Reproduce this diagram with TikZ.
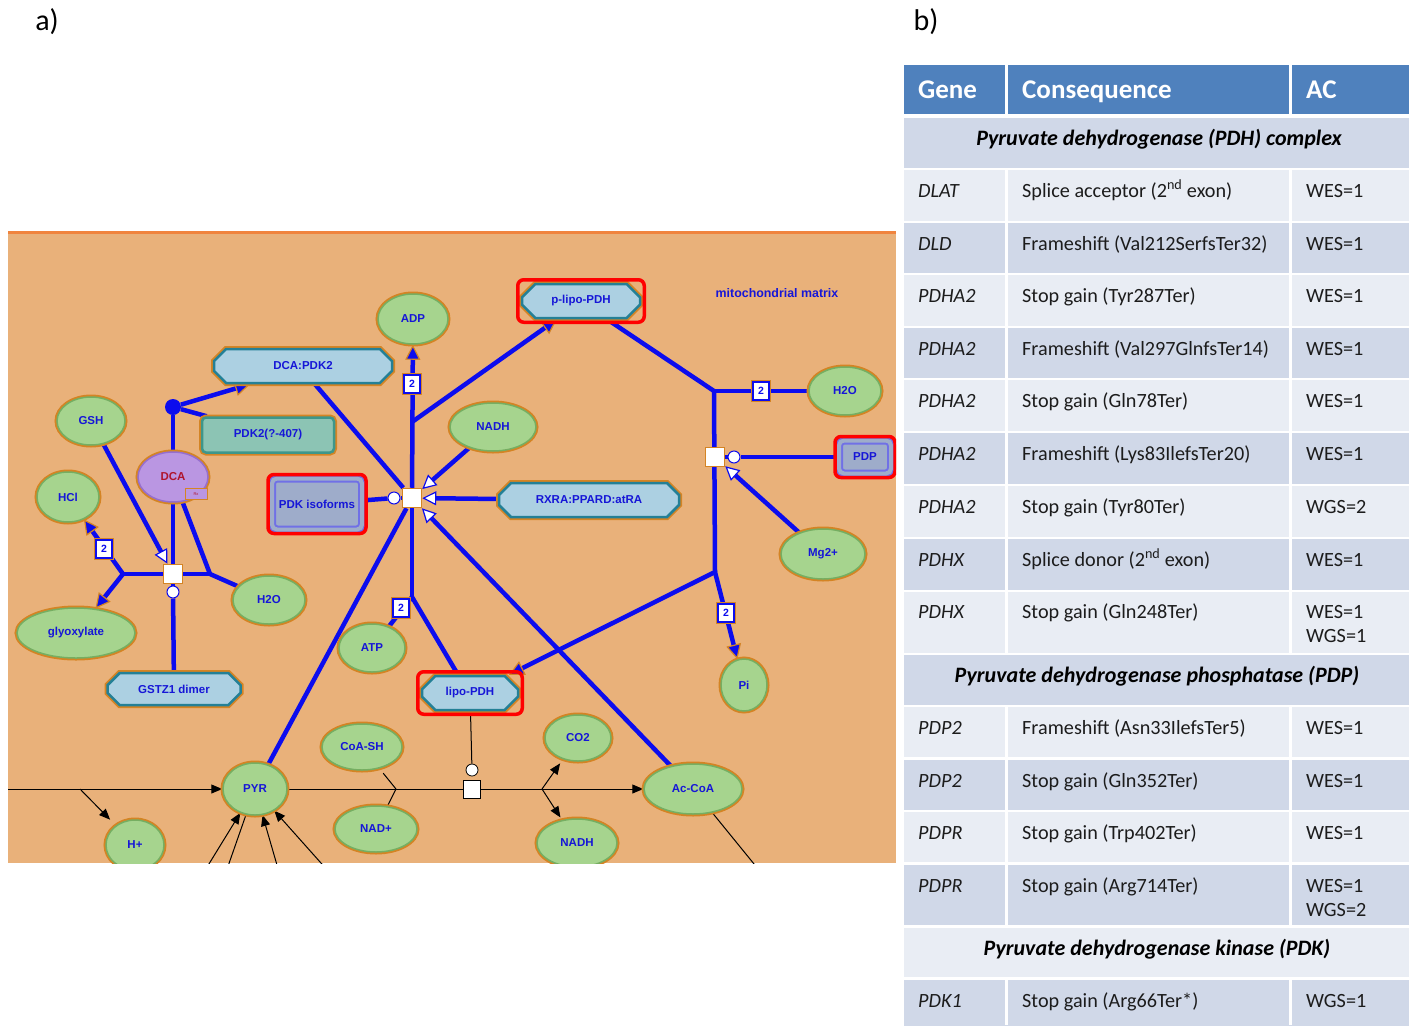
\documentclass[tikz,border=0pt]{standalone}
\usepackage{fontspec}
\setmainfont{Carlito}
\newfontfamily\diafont{Liberation Sans}
\usetikzlibrary{arrows.meta,shapes.misc,shapes.geometric,fit}

\definecolor{paper}{RGB}{233,177,122}
\definecolor{rim}{RGB}{240,132,62}
\definecolor{halo}{RGB}{212,132,36}
\definecolor{wire}{RGB}{12,12,238}
\definecolor{ink}{RGB}{22,22,215}
\definecolor{metfill}{RGB}{166,212,142}
\definecolor{metring}{RGB}{118,174,98}
\definecolor{cpxfill}{RGB}{172,208,226}
\definecolor{cpxrim}{RGB}{36,128,150}
\definecolor{protfill}{RGB}{140,196,180}
\definecolor{protrim}{RGB}{62,150,138}
\definecolor{drugfill}{RGB}{186,150,226}
\definecolor{drugrim}{RGB}{150,110,205}
\definecolor{drugink}{RGB}{175,20,45}
\definecolor{genefill}{RGB}{158,172,202}
\definecolor{generim}{RGB}{112,112,230}
\definecolor{headblue}{RGB}{79,129,189}
\definecolor{rowdark}{RGB}{208,216,232}
\definecolor{rowlight}{RGB}{233,237,244}
\definecolor{txtgray}{RGB}{28,28,28}

\pgfdeclarelayer{paperlayer}
\pgfdeclarelayer{wirelayer}
\pgfsetlayers{paperlayer,wirelayer,main}

\tikzset{
    diatext/.style={
    font=\diafont\bfseries\fontsize{11.5}{13}\selectfont,text=ink
    },
    metab/.style={
    ellipse,diatext,inner sep=0pt,fill=metfill,draw=metring,line width=1.5pt,
    preaction={draw=halo,line width=5pt}
    },
    cplx/.style={
    chamfered rectangle,chamfered rectangle xsep=7pt,chamfered rectangle ysep=7pt,
    diatext,inner sep=1pt,fill=cpxfill,draw=cpxrim,line width=2.5pt,
    preaction={draw=halo,line width=6pt}
    },
    prot/.style={
    rectangle,rounded corners=4pt,diatext,fill=protfill,draw=protrim,line width=2.5pt,
    preaction={draw=halo,line width=6pt}
    },
    drug/.style={
    ellipse,diatext,text=drugink,inner sep=0pt,fill=drugfill,draw=drugrim,line width=1.5pt,
    preaction={draw=halo,line width=5pt}
    },
    rxbox/.style={
    rectangle,fill=drugfill,draw=halo,line width=1pt,minimum width=22pt,minimum height=11pt,
    inner sep=0pt,text=drugink,font=\diafont\fontsize{4}{5}\selectfont
    },
    genebox/.style={
    rectangle,rounded corners=5pt,diatext,inner sep=0pt,fill=genefill,draw=generim,
    line width=2pt,double=genefill,double distance=4pt,
    preaction={draw=halo,line width=10pt}
    },
    hilite/.style={
    rectangle,rounded corners=6pt,draw=red,line width=3.5pt,inner sep=3pt
    },
    proc/.style={
    rectangle,fill=white,draw=halo,line width=1.5pt,minimum size=19pt,inner sep=0pt
    },
    catal/.style={
    circle,fill=white,draw=wire,line width=1pt,minimum size=12pt,inner sep=0pt
    },
    bdot/.style={
    circle,fill=wire,minimum size=16pt,inner sep=0pt
    },
    stoich/.style={
    rectangle,fill=white,draw=wire,line width=1.5pt,minimum width=16pt,minimum height=18pt,
    inner sep=0pt,text=wire,font=\diafont\bfseries\fontsize{10.5}{11}\selectfont,
    preaction={draw=halo,line width=4.5pt}
    },
    bproc/.style={
    rectangle,fill=white,draw=black,line width=1pt,minimum width=17pt,minimum height=18pt,inner sep=0pt
    },
    bcatal/.style={
    circle,fill=white,draw=black,line width=0.8pt,minimum size=12pt,inner sep=0pt
    },
    reac/.style={
    draw=wire,line width=4.5pt
    },
    prod/.style={
    reac,-{Triangle[length=15pt,width=15pt,fill=wire,color=halo,line width=1.2pt]}
    },
    modr/.style={
    reac,-{Triangle[length=14pt,width=14pt,fill=white,color=wire,line width=1.2pt]}
    },
    bline/.style={
    draw=black,line width=1pt
    },
    barr/.style={
    bline,-{Triangle[length=11pt,width=9pt]}
    },
    trow/.style={
    rectangle,minimum width=505pt,inner sep=0pt,outer sep=0pt
    },
    darkrow/.style={trow,fill=rowdark},
    lightrow/.style={trow,fill=rowlight},
    headrow/.style={trow,fill=headblue,minimum height=49pt},
    celltxt/.style={
    anchor=base west,inner sep=0pt,text=txtgray,font=\fontsize{20.2}{24}\selectfont
    },
    headtxt/.style={
    anchor=base west,inner sep=0pt,text=white,font=\bfseries\fontsize{27}{30}\selectfont
    },
    sectxt/.style={
    anchor=base,inner sep=0pt,text=black,font=\bfseries\itshape\fontsize{22}{26}\selectfont
    },
    colsep/.style={draw=white,line width=3pt},
    panel/.style={inner sep=0pt,font=\fontsize{30}{34}\selectfont},
}

\begin{document}
\begin{tikzpicture}[x=1pt,y=-1pt]
  \useasboundingbox (0,0) rectangle (1412,1025);
  \node[panel] (labA) at (47,22) {a)};
  \node[panel] (labB) at (926,22) {b)};

  % a) pathway map
  \begin{pgfonlayer}{paperlayer}
    \fill[paper] (8,231) rectangle (896,863);
    \draw[rim,line width=3pt] (8,232.5) -- (896,232.5);
  \end{pgfonlayer}

  \begin{scope}
  \clip (8,231) rectangle (896,863);
  \node[diatext,font=\diafont\bfseries\fontsize{12.4}{13}\selectfont] (mito) at (777,293) {mitochondrial matrix};
  \node[cplx,minimum width=118,minimum height=34] (plipo) at (581,301) {p-lipo-PDH};
  \node[hilite,fit=(plipo)] (plipoH) {};
  \node[metab,minimum width=70,minimum height=50] (ADP) at (413,319) {ADP};
  \node[cplx,minimum width=178,minimum height=34] (dcapdk) at (303,366) {DCA:PDK2};
  \node[prot,minimum width=132,minimum height=35] (pdktwo) at (268,435) {PDK2(?-407)};
  \node[metab,minimum width=68,minimum height=48] (GSH) at (91,421) {GSH};
  \node[drug,minimum width=70,minimum height=50] (DCA) at (173,477) {DCA};
  \node[rxbox] (Rx) at (196,494) {Rx};
  \node[metab,minimum width=62,minimum height=50] (HCl) at (68,497) {HCl};
  \node[metab,minimum width=86,minimum height=48] (NADHa) at (493,427) {NADH};
  \node[genebox,minimum width=90,minimum height=51] (pdkiso) at (317,504) {PDK isoforms};
  \node[hilite,fit=(pdkiso)] (pdkisoH) {};
  \node[cplx,minimum width=180,minimum height=34] (rxra) at (589,500) {RXRA:PPARD:atRA};
  \node[proc] (pc) at (412,498) {};
  \node[catal] (cc) at (394,498) {};
  \node[bdot] (dot) at (173,407) {};
  \node[proc] (ps) at (173,574) {};
  \node[catal] (cs) at (173,592) {};
  \node[metab,minimum width=72,minimum height=48] (H2Oa) at (269,600) {H2O};
  \node[metab,minimum width=118,minimum height=50] (glyox) at (76,633) {glyoxylate};
  \node[cplx,minimum width=133,minimum height=32] (gstz) at (174,689) {GSTZ1 dimer};
  \node[metab,minimum width=66,minimum height=48] (ATP) at (372,648) {ATP};
  \node[cplx,minimum width=96,minimum height=34] (lipo) at (470,693) {lipo-PDH};
  \node[hilite,fit=(lipo)] (lipoH) {};
  \node[metab,minimum width=72,minimum height=48] (H2Ob) at (845,391) {H2O};
  \node[genebox,minimum width=52,minimum height=33] (PDP) at (865,457) {PDP};
  \node[hilite,fit=(PDP)] (PDPH) {};
  \node[proc] (pr) at (715,457) {};
  \node[catal] (cr) at (734,457) {};
  \node[metab,minimum width=84,minimum height=50] (Mg) at (823,554) {Mg2+};
  \node[metab,minimum width=46,minimum height=52] (Pi) at (744,685) {Pi};
  \node[metab,minimum width=80,minimum height=46] (CoA) at (362,747) {CoA-SH};
  \node[metab,minimum width=66,minimum height=46] (COtwo) at (578,738) {CO2};
  \node[metab,minimum width=64,minimum height=52] (PYR) at (255,789) {PYR};
  \node[metab,minimum width=98,minimum height=50] (AcCoA) at (693,789) {Ac-CoA};
  \node[metab,minimum width=82,minimum height=46] (NADp) at (376,829) {NAD+};
  \node[metab,minimum width=80,minimum height=48] (NADHb) at (577,843) {NADH};
  \node[metab,minimum width=58,minimum height=50] (Hp) at (135,845) {H+};
  \node[bproc] (pbot) at (472,789) {};
  \node[bcatal] (cbot) at (472,770) {};
  \node[stoich] (sADP) at (412,384) {2};
  \node[stoich] (sATP) at (401,608) {2};
  \node[stoich] (sH2O) at (761,391) {2};
  \node[stoich] (sPi) at (726,613) {2};
  \node[stoich] (sHCl) at (104,549) {2};
  \end{scope}

  \coordinate (jUp) at (412,422);
  \coordinate (jLow) at (412,597);
  \coordinate (jR1) at (714,391);
  \coordinate (jR2) at (715,572);
  \coordinate (jH) at (210,574);
  \coordinate (jL) at (123,574);
  \coordinate (inL) at (2,789);
  \coordinate (bH) at (80,789);
  \coordinate (chev) at (396,789);
  \coordinate (bC) at (542,789);
  \coordinate (eAc) at (763,875);
  \coordinate (inA) at (204,872);
  \coordinate (inB) at (226,872);
  \coordinate (inC) at (279,872);
  \coordinate (inD) at (329,872);

  \begin{pgfonlayer}{wirelayer}
  \begin{scope}
  \clip (8,231) rectangle (896,863);
  \path (pc) edge [prod] (ADP)
             edge [reac] ([xshift=12]dcapdk.south)
             edge [reac] (PYR)
             edge [reac] (jLow)
             edge [reac] (cc);
  \path (jUp) edge [prod] ([xshift=-24]plipo.south);
  \path (NADHa) edge [modr] (pc);
  \path (rxra) edge [modr] (pc);
  \path (AcCoA) edge [modr] (pc);
  \path (pdkiso) edge [reac] (cc);
  \path (jLow) edge [reac] ([xshift=-12]lipo.north)
               edge [reac] (ATP);
  \path (jR1) edge [reac] ([xshift=26]plipo.south)
              edge [reac] (H2Ob)
              edge [reac] (jR2);
  \path (jR2) edge [prod] ([xshift=39]lipo.north)
              edge [prod] (Pi);
  \path (PDP) edge [reac] (cr);
  \path (cr) edge [reac] (pr);
  \path (Mg) edge [modr] (pr);
  \path (dot) edge [reac] (DCA)
              edge [reac] ([xshift=6]pdktwo.north west)
              edge [prod] ([xshift=-53]dcapdk.south);
  \path (DCA) edge [reac] (ps)
              edge [reac] (jH);
  \path (GSH) edge [modr] (ps);
  \path (ps) edge [reac] (jH)
             edge [reac] (jL)
             edge [reac] (cs);
  \path (cs) edge [reac] (gstz);
  \path (jH) edge [reac] (H2Oa);
  \path (jL) edge [prod] (HCl)
             edge [prod] (glyox);
  \path (inL) edge [barr] (PYR);
  \path (bH) edge [barr,shorten >=8pt] (Hp);
  \path (PYR) edge [bline] (pbot);
  \path (CoA) edge [bline,shorten <=6pt] (chev);
  \path (chev) edge [bline] (NADp);
  \path (pbot) edge [barr] (AcCoA);
  \path (bC) edge [barr,shorten >=5pt] (COtwo)
             edge [barr,shorten >=3pt] (NADHb);
  \path (lipo) edge [bline] (cbot);
  \path (AcCoA) edge [bline] (eAc);
  \path (inA) edge [barr] (PYR);
  \path (inB) edge [bline] (PYR);
  \path (inC) edge [barr] (PYR);
  \path (inD) edge [barr] (PYR);
  \end{scope}
  \end{pgfonlayer}

  % b) variant table
  \node[headrow] (hd) at (1156.5,89.5) {};
  \node[darkrow,minimum height=50] (sec1) at (1156.5,143) {};
  \node[lightrow,minimum height=51] (r1) at (1156.5,195.5) {};
  \node[darkrow,minimum height=50] (r2) at (1156.5,248) {};
  \node[lightrow,minimum height=51] (r3) at (1156.5,300.5) {};
  \node[darkrow,minimum height=50] (r4) at (1156.5,353) {};
  \node[lightrow,minimum height=51] (r5) at (1156.5,405.5) {};
  \node[darkrow,minimum height=51] (r6) at (1156.5,458.5) {};
  \node[lightrow,minimum height=51] (r7) at (1156.5,511.5) {};
  \node[darkrow,minimum height=51] (r8) at (1156.5,564.5) {};
  \node[lightrow,minimum height=61] (r9) at (1156.5,622.5) {};
  \node[darkrow,minimum height=50] (sec2) at (1156.5,680) {};
  \node[lightrow,minimum height=50] (r10) at (1156.5,732) {};
  \node[darkrow,minimum height=50] (r11) at (1156.5,785) {};
  \node[lightrow,minimum height=50] (r12) at (1156.5,837) {};
  \node[darkrow,minimum height=60] (r13) at (1156.5,895) {};
  \node[lightrow,minimum height=49] (sec3) at (1156.5,952.5) {};
  \node[darkrow,minimum height=47] (r14) at (1156.5,1003.5) {};

  \draw[colsep] (1006.5,65) -- (1006.5,115) (1290.5,65) -- (1290.5,115);
  \draw[colsep] (1006.5,169) -- (1006.5,654) (1290.5,169) -- (1290.5,654);
  \draw[colsep] (1006.5,706) -- (1006.5,927) (1290.5,706) -- (1290.5,927);
  \draw[colsep] (1006.5,979) -- (1006.5,1025) (1290.5,979) -- (1290.5,1025);

  \node[headtxt] (hGene) at (918,98) {Gene};
  \node[headtxt] (hCons) at (1022,98) {Consequence};
  \node[headtxt] (hAC) at (1306,98) {AC};

  \node[sectxt] (tsec1) at (1159,145) {Pyruvate dehydrogenase (PDH) complex};
  \node[celltxt] (g1) at (918,197) {\itshape DLAT};
  \node[celltxt] (c1) at (1022,197) {Splice acceptor (2\textsuperscript{nd} exon)};
  \node[celltxt] (a1) at (1306,197) {WES=1};
  \node[celltxt] (g2) at (918,250) {\itshape DLD};
  \node[celltxt] (c2) at (1022,250) {Frameshift (Val212SerfsTer32)};
  \node[celltxt] (a2) at (1306,250) {WES=1};
  \node[celltxt] (g3) at (918,302) {\itshape PDHA2};
  \node[celltxt] (c3) at (1022,302) {Stop gain (Tyr287Ter)};
  \node[celltxt] (a3) at (1306,302) {WES=1};
  \node[celltxt] (g4) at (918,355) {\itshape PDHA2};
  \node[celltxt] (c4) at (1022,355) {Frameshift (Val297GlnfsTer14)};
  \node[celltxt] (a4) at (1306,355) {WES=1};
  \node[celltxt] (g5) at (918,407) {\itshape PDHA2};
  \node[celltxt] (c5) at (1022,407) {Stop gain (Gln78Ter)};
  \node[celltxt] (a5) at (1306,407) {WES=1};
  \node[celltxt] (g6) at (918,460) {\itshape PDHA2};
  \node[celltxt] (c6) at (1022,460) {Frameshift (Lys83IlefsTer20)};
  \node[celltxt] (a6) at (1306,460) {WES=1};
  \node[celltxt] (g7) at (918,513) {\itshape PDHA2};
  \node[celltxt] (c7) at (1022,513) {Stop gain (Tyr80Ter)};
  \node[celltxt] (a7) at (1306,513) {WGS=2};
  \node[celltxt] (g8) at (918,566) {\itshape PDHX};
  \node[celltxt] (c8) at (1022,566) {Splice donor (2\textsuperscript{nd} exon)};
  \node[celltxt] (a8) at (1306,566) {WES=1};
  \node[celltxt] (g9) at (918,618) {\itshape PDHX};
  \node[celltxt] (c9) at (1022,618) {Stop gain (Gln248Ter)};
  \node[celltxt] (a9) at (1306,618) {WES=1};
  \node[celltxt] (a9b) at (1306,642) {WGS=1};

  \node[sectxt] (tsec2) at (1157,682) {Pyruvate dehydrogenase phosphatase (PDP)};
  \node[celltxt] (g10) at (918,734) {\itshape PDP2};
  \node[celltxt] (c10) at (1022,734) {Frameshift (Asn33IlefsTer5)};
  \node[celltxt] (a10) at (1306,734) {WES=1};
  \node[celltxt] (g11) at (918,787) {\itshape PDP2};
  \node[celltxt] (c11) at (1022,787) {Stop gain (Gln352Ter)};
  \node[celltxt] (a11) at (1306,787) {WES=1};
  \node[celltxt] (g12) at (918,839) {\itshape PDPR};
  \node[celltxt] (c12) at (1022,839) {Stop gain (Trp402Ter)};
  \node[celltxt] (a12) at (1306,839) {WES=1};
  \node[celltxt] (g13) at (918,892) {\itshape PDPR};
  \node[celltxt] (c13) at (1022,892) {Stop gain (Arg714Ter)};
  \node[celltxt] (a13) at (1306,892) {WES=1};
  \node[celltxt] (a13b) at (1306,916) {WGS=2};

  \node[sectxt] (tsec3) at (1157,955) {Pyruvate dehydrogenase kinase (PDK)};
  \node[celltxt] (g14) at (918,1007) {\itshape PDK1};
  \node[celltxt] (c14) at (1022,1007) {Stop gain (Arg66Ter*)};
  \node[celltxt] (a14) at (1306,1007) {WGS=1};
\end{tikzpicture}
\end{document}
